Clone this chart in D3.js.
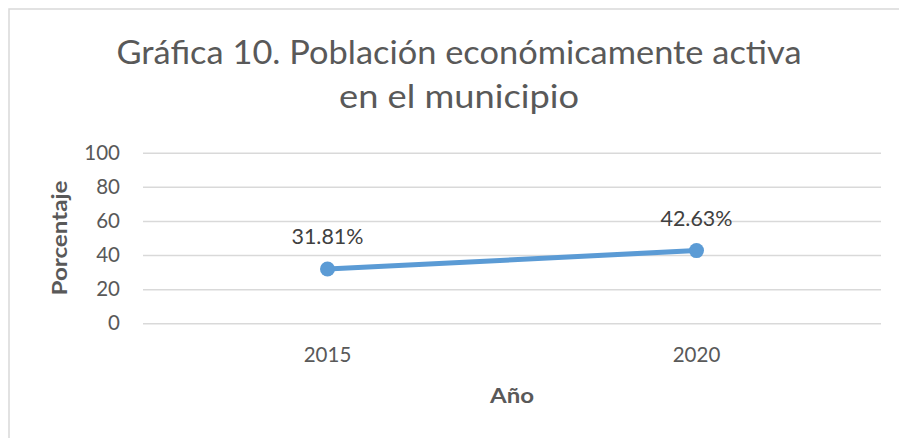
<!DOCTYPE html>
<html><head><meta charset="utf-8">
<script src="https://cdn.jsdelivr.net/npm/d3@7"></script>
<style>html,body{margin:0;padding:0;background:#fff;}svg{display:block;}</style>
</head><body>
<script>
const titleLines = ["Gráfica 10. Población económicamente activa", "en el municipio"];
const categories = ["2015", "2020"];
const values = [31.81, 42.63];
const valueLabels = ["31.81%", "42.63%"];
const yTicks = [0, 20, 40, 60, 80, 100];
const xTitle = "Año";
const yTitle = "Porcentaje";

const W = 899, H = 438;
const font = "Lato, 'Open Sans', sans-serif";
const textColor = "#595959";
const svg = d3.select("body").append("svg").attr("width", W).attr("height", H);

svg.append("rect").attr("x", 9).attr("y", 9).attr("width", W + 20).attr("height", H + 20)
  .attr("fill", "#fff").attr("stroke", "#d9d9d9").attr("stroke-width", 1.5);

const plot = {left: 143, right: 881, top: 152.7, bottom: 323.3};
const x = d3.scaleBand().domain(categories).range([plot.left, plot.right]);
const y = d3.scaleLinear().domain([0, 100]).range([plot.bottom, plot.top]);

// title
const tl = [{t: titleLines[0], y: 64, len: 685}, {t: titleLines[1], y: 108, len: 240}];
svg.selectAll(".title").data(tl).join("text")
  .attr("x", 459).attr("y", d => d.y).attr("text-anchor", "middle")
  .attr("font-family", font).attr("font-size", 33).attr("fill", textColor)
  .attr("textLength", d => d.len).attr("lengthAdjust", "spacingAndGlyphs")
  .text(d => d.t);

// grid
const yAxis = d3.axisLeft(y).tickValues(yTicks).tickSize(-(plot.right - plot.left)).tickPadding(23);
const gy = svg.append("g").attr("transform", `translate(${plot.left},0)`).call(yAxis);
gy.select(".domain").remove();
gy.selectAll(".tick line").attr("stroke", "#d9d9d9").attr("stroke-width", 1.5);
gy.selectAll(".tick text").attr("font-family", font).attr("font-size", 20.5).attr("fill", textColor);

const xAxis = d3.axisBottom(x).tickSize(0).tickPadding(24);
const gx = svg.append("g").attr("transform", `translate(0,${plot.bottom})`).call(xAxis);
gx.select(".domain").remove();
gx.selectAll(".tick text").attr("font-family", font).attr("font-size", 20.5).attr("fill", textColor);

// line
const pts = categories.map((c, i) => ({c, v: values[i], l: valueLabels[i]}));
const cx = d => x(d.c) + x.bandwidth() / 2;
svg.append("path").datum(pts)
  .attr("d", d3.line().x(cx).y(d => y(d.v)))
  .attr("fill", "none").attr("stroke", "#5b9bd5").attr("stroke-width", 5).attr("stroke-linecap", "round");
svg.selectAll(".pt").data(pts).join("circle")
  .attr("cx", cx).attr("cy", d => y(d.v)).attr("r", 7.5).attr("fill", "#5b9bd5");
svg.selectAll(".lbl").data(pts).join("text")
  .attr("x", cx).attr("y", d => y(d.v) - 25).attr("text-anchor", "middle")
  .attr("font-family", font).attr("font-size", 20.5).attr("fill", "#404040")
  .attr("textLength", 72).attr("lengthAdjust", "spacingAndGlyphs")
  .text(d => d.l);

// axis titles
svg.append("text").attr("x", (plot.left + plot.right) / 2).attr("y", 403)
  .attr("text-anchor", "middle").attr("font-family", font).attr("font-weight", "bold")
  .attr("font-size", 21).attr("fill", textColor)
  .attr("textLength", 44).attr("lengthAdjust", "spacingAndGlyphs").text(xTitle);
svg.append("text").attr("transform", `translate(67,${(plot.top + plot.bottom) / 2}) rotate(-90)`)
  .attr("text-anchor", "middle").attr("font-family", font).attr("font-weight", "bold")
  .attr("font-size", 21).attr("fill", textColor)
  .attr("textLength", 115).attr("lengthAdjust", "spacingAndGlyphs").text(yTitle);
</script>
</body></html>
